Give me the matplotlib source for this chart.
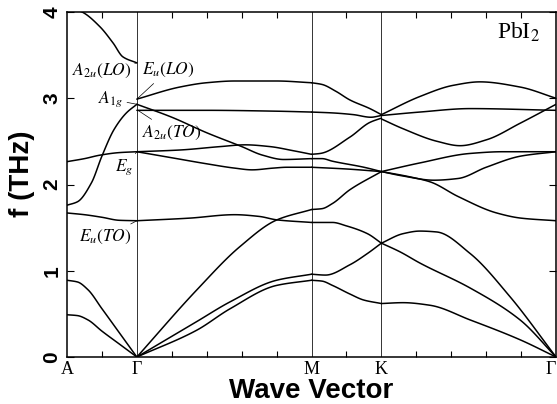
import matplotlib
matplotlib.use("Agg")
import matplotlib.pyplot as plt
import numpy as np

# ── data: phonon branches of PbI2 ──────────────────────────────────────────────
# path coordinate in tick units: A=0, Gamma=2, M=7, K=9, Gamma=14
kpath_pos = [0, 2, 7, 9, 14]
kpath_labels = ["A", "Γ", "M", "K", "Γ"]

# A -> Gamma
branches_AG = [
    [(0, 0.49), (0.3, 0.48), (0.6, 0.43), (1.0, 0.3), (1.5, 0.15), (2.0, 0.0)],
    [(0, 0.89), (0.3, 0.87), (0.6, 0.78), (1.0, 0.56), (1.5, 0.28), (2.0, 0.0)],
    [(0, 1.67), (0.5, 1.65), (1.0, 1.62), (1.5, 1.585), (2.0, 1.58)],
    [(0, 1.76), (0.3, 1.8), (0.7, 2.02), (1.0, 2.33), (1.35, 2.64), (1.7, 2.83), (2.0, 2.93)],
    [(0, 2.265), (0.5, 2.3), (0.94, 2.34), (1.5, 2.37), (2.0, 2.38)],
    [(0, 4.06), (0.43, 4.0), (0.94, 3.83), (1.32, 3.64), (1.6, 3.48), (2.0, 3.41)],
]
# Gamma -> M
branches_GM = [
    [(2, 0), (3.71, 0.31), (4.67, 0.56), (6.0, 0.83), (7, 0.89)],
    [(2, 0), (3.71, 0.41), (4.67, 0.64), (6.0, 0.89), (7, 0.96)],
    [(2, 0), (3.72, 0.78), (4.95, 1.28), (6.01, 1.59), (7, 1.71)],
    [(2, 1.58), (3.5, 1.61), (4.8, 1.65), (5.5, 1.63), (6.01, 1.59), (7, 1.56)],
    [(2, 2.38), (3, 2.31), (4, 2.24), (4.8, 2.19), (5.3, 2.17), (5.9, 2.19), (6.3, 2.2), (7, 2.2)],
    [(2, 2.38), (3.23, 2.4), (4.4, 2.44), (5.1, 2.46), (5.8, 2.44), (6.5, 2.39), (7, 2.35)],
    [(2, 2.93), (3, 2.78), (4, 2.6), (5, 2.44), (5.6, 2.34), (6.2, 2.29), (7, 2.3)],
    [(2, 2.86), (4, 2.86), (6, 2.85), (7, 2.84)],
    [(2, 2.99), (3.23, 3.13), (4.0, 3.18), (4.8, 3.2), (6, 3.2), (7, 3.18)],
]
# M -> K
branches_MK = [
    [(7, 0.89), (7.3, 0.88), (7.6, 0.83), (8.1, 0.73), (8.5, 0.66), (9, 0.62)],
    [(7, 0.96), (7.4, 0.95), (8.1, 1.07), (8.6, 1.2), (9, 1.32)],
    [(7, 1.71), (7.3, 1.72), (7.6, 1.78), (8.1, 1.94), (9, 2.15)],
    [(7, 1.56), (7.6, 1.56), (8.0, 1.52), (8.6, 1.43), (9, 1.32)],
    [(7, 2.2), (8, 2.18), (9, 2.15)],
    [(7, 2.3), (7.3, 2.3), (7.6, 2.27), (8.5, 2.2), (9, 2.15)],
    [(7, 2.35), (7.25, 2.36), (8.1, 2.55), (8.67, 2.72), (9, 2.77)],
    [(7, 2.84), (7.6, 2.83), (8.2, 2.81), (8.7, 2.78), (9, 2.8)],
    [(7, 3.18), (7.3, 3.16), (7.7, 3.08), (8.1, 2.98), (8.67, 2.88), (9, 2.81)],
]
# K -> Gamma
branches_KG = [
    [(9, 0.62), (9.62, 0.63), (10.39, 0.6), (11.54, 0.43), (12.97, 0.2), (14, 0)],
    [(9, 1.32), (9.53, 1.22), (10.1, 1.09), (11.54, 0.8), (12.97, 0.43), (14, 0)],
    [(9, 1.32), (9.62, 1.43), (10.1, 1.46), (10.58, 1.45), (11.54, 1.2), (12.68, 0.7), (14, 0)],
    [(9, 2.15), (9.8, 2.09), (10.4, 2.03), (11.2, 1.86), (12.3, 1.67), (13, 1.61), (14, 1.58)],
    [(9, 2.15), (9.6, 2.1), (10.5, 2.05), (11.2, 2.07), (12, 2.2), (13, 2.33), (14, 2.38)],
    [(9, 2.15), (10.1, 2.25), (11.54, 2.36), (12.48, 2.38), (14, 2.38)],
    [(9, 2.76), (9.6, 2.65), (10.6, 2.5), (11.25, 2.45), (12.02, 2.52), (12.97, 2.71), (14, 2.93)],
    [(9, 2.8), (10.1, 2.84), (11.54, 2.88), (14, 2.86)],
    [(9, 2.81), (10.1, 3.02), (11.06, 3.15), (11.82, 3.19), (12.97, 3.13), (14, 3.0)],
]

# mode labels at Gamma: (text, frequency of the mode)
mode_labels = [r"$A_{2u}(LO)$", r"$E_u(LO)$", r"$A_{1g}$", r"$A_{2u}(TO)$", r"$E_g$", r"$E_u(TO)$"]
mode_freqs = [3.41, 2.99, 2.93, 2.86, 2.38, 1.58]


def smooth(pts, n=120):
    """monotone cubic (pchip) through the read points, for drawing only"""
    x = np.array([p[0] for p in pts], float)
    y = np.array([p[1] for p in pts], float)
    h = np.diff(x)
    d = np.diff(y) / h
    m = np.zeros_like(y)
    m[0], m[-1] = d[0], d[-1]
    for i in range(1, len(x) - 1):
        if d[i - 1] * d[i] > 0:
            w1 = 2 * h[i] + h[i - 1]
            w2 = h[i] + 2 * h[i - 1]
            m[i] = (w1 + w2) / (w1 / d[i - 1] + w2 / d[i])
    xs = np.linspace(x[0], x[-1], n)
    idx = np.clip(np.searchsorted(x, xs, side="right") - 1, 0, len(x) - 2)
    t = (xs - x[idx]) / h[idx]
    h00 = 2 * t**3 - 3 * t**2 + 1
    h10 = t**3 - 2 * t**2 + t
    h01 = -2 * t**3 + 3 * t**2
    h11 = t**3 - t**2
    ys = h00 * y[idx] + h10 * h[idx] * m[idx] + h01 * y[idx + 1] + h11 * h[idx] * m[idx + 1]
    return xs, ys


plt.rcParams["mathtext.fontset"] = "stix"
SERIF = "Liberation Serif"
SANS = "Liberation Sans"

fig = plt.figure(figsize=(5.57, 4.04), dpi=100)
fig.patch.set_facecolor("white")
ax = fig.add_axes([0.1203, 0.1163, 0.878, 0.854])

for seg in (branches_AG, branches_GM, branches_MK, branches_KG):
    for br in seg:
        xs, ys = smooth(br)
        ax.plot(xs, ys, color="black", lw=1.1, solid_capstyle="round")

for xp in kpath_pos[1:-1]:
    ax.axvline(xp, color="#333333", lw=0.7, zorder=1)

ax.set_xlim(kpath_pos[0], kpath_pos[-1])
ax.set_ylim(0, 4)

# x: symmetry labels (no tick) + small inward ticks at every unit
ax.set_xticks(kpath_pos)
ax.set_xticklabels(kpath_labels, family=SERIF, fontsize=13)
ax.get_xticklabels()[-1].set_horizontalalignment("right")
ax.set_xticks(np.arange(kpath_pos[0], kpath_pos[-1] + 1), minor=True)
ax.tick_params(axis="x", which="major", length=0, pad=3)
ax.tick_params(axis="x", which="minor", direction="in", length=4, width=0.8, top=True, bottom=True)

ax.set_yticks([0, 1, 2, 3, 4])
ax.set_yticklabels(["0", "1", "2", "3", "4"], family=SANS, fontweight="bold",
                   fontsize=15, rotation=90, va="center")
ax.tick_params(axis="y", direction="in", length=5, width=0.8, left=True, right=True, pad=4)

for sp in ax.spines.values():
    sp.set_linewidth(1.1)

ax.set_xlabel("Wave Vector", family=SANS, fontweight="bold", fontsize=20)
ax.xaxis.set_label_coords(0.5, -0.06)
ax.set_ylabel("f (THz)", family=SANS, fontweight="bold", fontsize=20)
ax.yaxis.set_label_coords(-0.066, 0.53)

# mode annotations at Gamma
lab_style = dict(fontsize=12.5, color="black")
line = dict(arrowstyle="-", lw=0.5, shrinkB=0)
ax.annotate(mode_labels[0], xy=(2.0, mode_freqs[0]), xytext=(1.86, 3.32),
            ha="right", va="center", arrowprops=dict(line, shrinkA=0), **lab_style)
ax.annotate(mode_labels[1], xy=(2.0, mode_freqs[1]), xytext=(2.15, 3.33),
            ha="left", va="center", arrowprops=dict(line, shrinkA=2), **lab_style)
ax.annotate(mode_labels[2], xy=(2.0, mode_freqs[2]), xytext=(1.6, 2.99),
            ha="right", va="center", arrowprops=dict(line, shrinkA=1), **lab_style)
ax.annotate(mode_labels[3], xy=(2.03, mode_freqs[3]), xytext=(2.15, 2.6),
            ha="left", va="center", arrowprops=dict(line, shrinkA=2), **lab_style)
ax.annotate(mode_labels[4], xy=(2.0, mode_freqs[4]), xytext=(1.89, 2.2),
            ha="right", va="center", arrowprops=dict(line, shrinkA=1), **lab_style)
ax.annotate(mode_labels[5], xy=(2.0, mode_freqs[5]), xytext=(1.86, 1.39),
            ha="right", va="center", arrowprops=dict(line, shrinkA=2), **lab_style)

ax.text(13.54, 3.76, r"PbI$_2$", family=SERIF, fontsize=17, ha="right", va="center")

fig.savefig("out.png", dpi=100, facecolor="white")
plt.close(fig)
